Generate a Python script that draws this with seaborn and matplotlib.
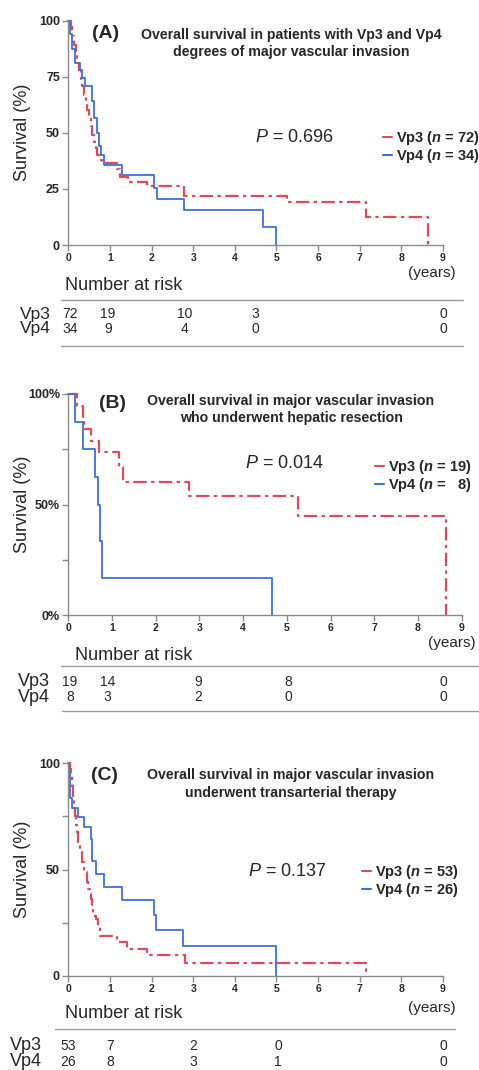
import numpy as np
import pandas as pd
import matplotlib
matplotlib.use("Agg")
import matplotlib.pyplot as plt
import matplotlib.transforms as mtransforms
from matplotlib.lines import Line2D
import seaborn as sns

# ---------------- data ----------------
years = [0, 1, 2, 3, 4, 5, 6, 7, 8, 9]

# Panel A
A_vp3_t = [0.06, 0.10, 0.14, 0.18, 0.22, 0.26, 0.30, 0.34, 0.38, 0.42, 0.46, 0.50, 0.54, 0.58, 0.62,
           0.66, 0.70, 0.76, 0.82, 1.18, 1.24, 1.44, 1.90, 2.78, 5.26, 7.14, 8.64]
A_vp3_s = [97, 93, 89, 85, 81, 78, 74, 71, 67, 64, 60, 57, 53, 49, 46,
           43, 40, 38, 36.7, 33.7, 30.4, 28.2, 26.4, 21.8, 19.2, 12.5, 0]
A_vp4_t = [0.04, 0.08, 0.15, 0.28, 0.33, 0.40, 0.58, 0.62, 0.70, 0.74, 0.78, 0.86, 1.30, 2.06, 2.12, 2.78, 4.68, 5.00]
A_vp4_s = [94, 87.5, 81, 78, 74.3, 71, 64, 56.5, 50, 44, 40, 35.6, 31.2, 25.5, 20.5, 15.6, 7.9, 0]

# Panel B
B_vp3_t = [0.20, 0.34, 0.37, 0.53, 0.71, 1.17, 1.26, 2.76, 5.25, 8.64]
B_vp3_s = [94.7, 89.5, 84.2, 78.9, 73.7, 67.0, 60.4, 53.7, 44.7, 0]
B_vp4_t = [0.15, 0.33, 0.60, 0.69, 0.725, 0.76, 4.67]
B_vp4_s = [87.5, 75, 62.5, 50, 33.3, 16.7, 0]

# Panel C
C_vp3_t = [0.04, 0.06, 0.09, 0.12, 0.14, 0.16, 0.18, 0.20, 0.24, 0.28, 0.32, 0.38, 0.44, 0.48, 0.54,
           0.58, 0.60, 0.66, 0.72, 0.76, 1.16, 1.40, 1.88, 2.80, 7.14]
C_vp3_s = [97, 94, 89, 83, 79, 75, 71, 67.5, 62.8, 58, 53.4, 48.7, 44, 41, 36,
           31.5, 28.4, 26.9, 23.7, 19, 16, 12.8, 9.7, 6.3, 0]
C_vp4_t = [0.02, 0.05, 0.08, 0.24, 0.38, 0.54, 0.58, 0.66, 0.86, 1.30, 2.06, 2.10, 2.76, 4.99]
C_vp4_s = [96, 83.4, 78.9, 74.5, 69.8, 64.4, 53.8, 48, 42, 35.8, 28.6, 21.6, 14.1, 0]

A_risk_vp3 = ["72", "19", "10", "3", "0"]
A_risk_vp4 = ["34", "9", "4", "0", "0"]
B_risk_vp3 = ["19", "14", "9", "8", "0"]
B_risk_vp4 = ["8", "3", "2", "0", "0"]
C_risk_vp3 = ["53", "7", "2", "0", "0"]
C_risk_vp4 = ["26", "8", "3", "1", "0"]

A_n = (72, 34)
B_n = (19, 8)
C_n = (53, 26)
A_p = "0.696"
B_p = "0.014"
C_p = "0.137"

A_title = ["Overall survival in patients with Vp3 and Vp4", "degrees of major vascular invasion"]
B_title = ["Overall survival in major vascular invasion", "who underwent hepatic resection"]
C_title = ["Overall survival in major vascular invasion", "underwent transarterial therapy"]

# ---------------- style ----------------
sns.set_theme(style="white")
plt.rcParams["font.family"] = ["Liberation Sans", "DejaVu Sans"]
plt.rcParams["mathtext.fontset"] = "custom"
plt.rcParams["mathtext.it"] = "Liberation Sans:italic"
plt.rcParams["mathtext.bf"] = "Liberation Sans:bold:italic"
plt.rcParams["mathtext.rm"] = "Liberation Sans"

RED = "#dc4a5c"
BLUE = "#3d6fe0"
GREY = "#8a8a8a"
W, H = 479, 1070

fig = plt.figure(figsize=(W / 100, H / 100), dpi=100)


def fx(x):
    return x / W


def fy(y):
    return 1 - y / H


def make_axes(left, right, top, bottom):
    return fig.add_axes([fx(left), fy(bottom), fx(right - left), (bottom - top) / H])


def curve(ax, t, s, color, ls, lw):
    df = pd.DataFrame({"t": [0.0] + list(t), "s": [100.0] + list(s)})
    sns.lineplot(data=df, x="t", y="s", ax=ax, color=color, linestyle=ls, linewidth=lw,
                 drawstyle="steps-post", estimator=None, sort=False, legend=False,
                 clip_on=False)


def panel(box, letter, letter_xy, title, title_y, vp3, vp4, n, p, p_xy, leg_xy,
          yticks_lab, ylabels, yminor, risk3, risk4, cols, tbl):
    left, right, top, bottom = box
    ax = make_axes(left, right, top, bottom)
    curve(ax, vp3[0], vp3[1], RED, (0, (6, 2, 1.5, 2)), 1.6)
    curve(ax, vp4[0], vp4[1], BLUE, "-", 1.3)
    ax.set_xlim(0, 9)
    ax.set_ylim(0, 100)
    ax.set_xticks(years)
    ax.set_xticklabels([str(v) for v in years], fontsize=7.5, fontweight="bold")
    ax.set_yticks(yticks_lab)
    ax.set_yticklabels(ylabels, fontsize=9, fontweight="bold")
    ax.set_yticks(yminor, minor=True)
    ax.tick_params(axis="both", which="both", direction="out", length=4, width=1,
                   color=GREY, pad=2, left=True, bottom=True)
    for sp in ["top", "right"]:
        ax.spines[sp].set_visible(False)
    for sp in ["left", "bottom"]:
        ax.spines[sp].set_color(GREY)
        ax.spines[sp].set_linewidth(1)
    ax.set_xlabel("")
    ax.set_ylabel("Survival (%)", fontsize=13)
    ax.yaxis.set_label_coords(-(left - 31) / (right - left), 0.5)

    fig.text(fx(letter_xy[0]), fy(letter_xy[1]), letter, fontsize=14, fontweight="bold",
             ha="center", va="center")
    fig.text(fx(291), fy(title_y[0]), title[0], fontsize=10.2, fontweight="bold", ha="center", va="center")
    fig.text(fx(291), fy(title_y[1]), title[1], fontsize=10.2, fontweight="bold", ha="center", va="center")
    fig.text(fx(p_xy[0]), fy(p_xy[1]), "$P$ = " + p, fontsize=13, ha="left", va="center")

    handles = [Line2D([], [], color=RED, lw=1.5), Line2D([], [], color=BLUE, lw=1.5)]
    labels = [r"Vp3 ($\mathbf{n}$ = %d)" % n[0],
              r"Vp4 ($\mathbf{n}$ = %s)" % (str(n[1]) if n[1] >= 10 else "  " + str(n[1]))]
    fig.legend(handles, labels, loc="upper left", bbox_to_anchor=(fx(leg_xy[0]), fy(leg_xy[1])),
               frameon=False, handlelength=0.6, handletextpad=0.3, labelspacing=0.02,
               borderpad=0, borderaxespad=0, prop={"size": 10.5, "weight": "bold"})

    # risk table
    tr = mtransforms.blended_transform_factory(ax.transData, fig.transFigure)
    fig.text(fx(tbl["years_x"]), fy(tbl["years_y"]), "(years)", fontsize=11, ha="right", va="center")
    fig.text(fx(tbl["nar_x"]), fy(tbl["nar_y"]), "Number at risk", fontsize=13, ha="left", va="center")
    for (x0, x1, y) in tbl["lines"]:
        fig.add_artist(Line2D([fx(x0), fx(x1)], [fy(y), fy(y)], color="#9a9a9a", lw=1,
                              transform=fig.transFigure))
    fig.text(fx(tbl["lab_x"]), fy(tbl["rows"][0]), "Vp3", fontsize=tbl["lab_fs"], ha="left", va="center")
    fig.text(fx(tbl["lab_x"]), fy(tbl["rows"][1]), "Vp4", fontsize=tbl["lab_fs"], ha="left", va="center")
    for c, a, b in zip(cols, risk3, risk4):
        ax.text(c, fy(tbl["rows"][0]), a, transform=tr, fontsize=10, ha="center", va="center")
        ax.text(c, fy(tbl["rows"][1]), b, transform=tr, fontsize=10, ha="center", va="center")
    return ax


panel((68.3, 443, 20.5, 245), "(A)", (106, 33), A_title, (35, 52),
      (A_vp3_t, A_vp3_s), (A_vp4_t, A_vp4_s), A_n, A_p, (255, 137), (383, 129),
      [0, 25, 50, 75, 100], ["0", "25", "50", "75", "100"], [],
      A_risk_vp3, A_risk_vp4, [0.04, 0.95, 2.8, 4.5, 9.0],
      {"years_x": 456, "years_y": 273, "nar_x": 65, "nar_y": 285,
       "lines": [(61, 463, 300), (61, 463, 346)], "lab_x": 20, "lab_fs": 12.5,
       "rows": (314, 329)})

panel((68.3, 461.7, 394, 615), "(B)", (113, 404), B_title, (401, 418),
      (B_vp3_t, B_vp3_s), (B_vp4_t, B_vp4_s), B_n, B_p, (245, 464), (375, 458),
      [0, 50, 100], ["0%", "50%", "100%"], [25, 75],
      B_risk_vp3, B_risk_vp4, [0.04, 0.89, 2.97, 5.03, 8.57],
      {"years_x": 476, "years_y": 643, "nar_x": 75, "nar_y": 655,
       "lines": [(61, 479, 666), (62, 479, 711)], "lab_x": 18, "lab_fs": 13,
       "rows": (682, 697)})

panel((68.3, 443, 763, 976), "(C)", (104, 775), C_title, (775, 793),
      (C_vp3_t, C_vp3_s), (C_vp4_t, C_vp4_s), C_n, C_p, (248, 872), (362, 863),
      [0, 50, 100], ["0", "50", "100"], [25, 75],
      C_risk_vp3, C_risk_vp4, [0.0, 1.0, 3.0, 5.04, 9.0],
      {"years_x": 456, "years_y": 1008, "nar_x": 65, "nar_y": 1014,
       "lines": [(55, 455, 1029)], "lab_x": 10, "lab_fs": 13,
       "rows": (1046, 1062)})

fig.savefig("out.png", dpi=100)
